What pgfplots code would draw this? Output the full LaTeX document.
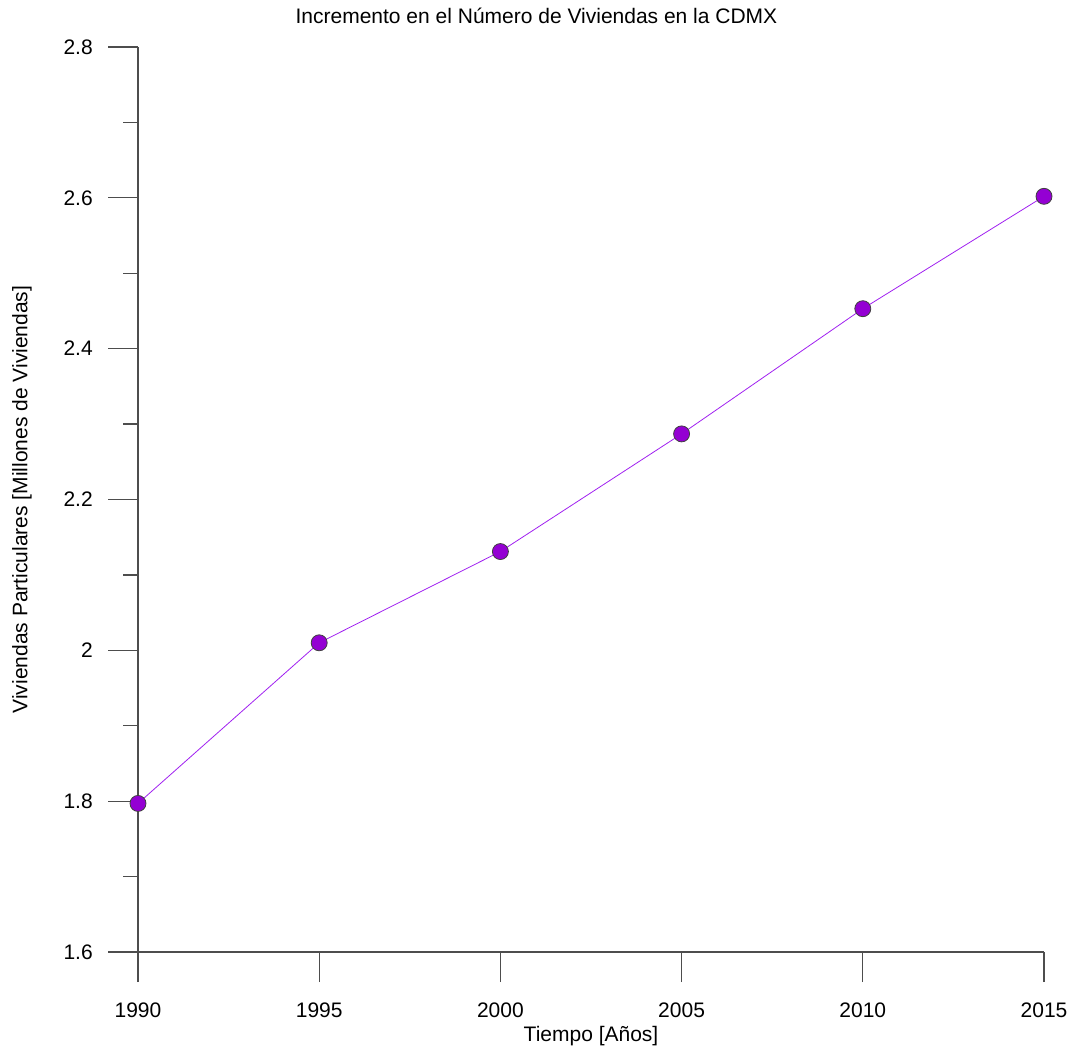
\documentclass[border=0pt]{standalone}
\usepackage{fontspec}
\setmainfont{Liberation Sans}
\usepackage{pgfplots}
\pgfplotsset{compat=1.18}
\definecolor{dviolet}{HTML}{9400D3}
\definecolor{lpurple}{HTML}{A020F0}
\definecolor{axgray}{HTML}{4D4D4D}
\begin{document}
\begin{tikzpicture}
\begin{axis}[
  name=ax,
  scale only axis,
  width=679.5pt, height=678.75pt,
  xmin=1990, xmax=2015, ymin=1.6, ymax=2.8,
  axis lines=left,
  axis line style={-, axgray, line width=0.9pt},
  every tick/.style={axgray, line width=0.9pt},
  tick align=outside,
  major tick length=22.5pt,
  minor tick length=11.25pt,
  xtick={1990,1995,2000,2005,2010,2015},
  ytick={1.6,1.8,2.0,2.2,2.4,2.6,2.8},
  minor ytick={1.7,1.9,2.1,2.3,2.5,2.7},
  /pgf/number format/assume math mode=true,
  /pgf/number format/1000 sep={},
  ticklabel style={font=\fontsize{15.75}{18}\selectfont},
  xticklabel style={yshift=-12pt},
  yticklabel style={xshift=-8pt},
  clip=false,
  title={Incremento en el Número de Viviendas en la CDMX},
  title style={at={(axis description cs:0.4398,1.0257)}, anchor=center, font=\fontsize{15.75}{18}\selectfont},
  xlabel={Tiempo [Años]},
  xlabel style={at={(axis description cs:0.5,-0.0925)}, anchor=center, font=\fontsize{15.75}{18}\selectfont},
  ylabel={Viviendas Particulares [Millones de Viviendas]},
  ylabel style={at={(axis description cs:-0.128,0.5)}, anchor=center, rotate=0, font=\fontsize{15.75}{18}\selectfont},
]
\addplot[lpurple, line width=0.6pt, mark=*, mark size=6pt,
  mark options={fill=dviolet, draw=black!75, line width=0.6pt}]
  coordinates {
  (1990,1.797) (1995,2.010) (2000,2.131) (2005,2.287) (2010,2.453) (2015,2.602)
  };
\end{axis}
\pgfresetboundingbox
\path ([shift={(-103.5pt,-71.25pt)}]ax.south west) rectangle ([shift={(21.75pt,35.25pt)}]ax.north east);
\end{tikzpicture}
\end{document}
